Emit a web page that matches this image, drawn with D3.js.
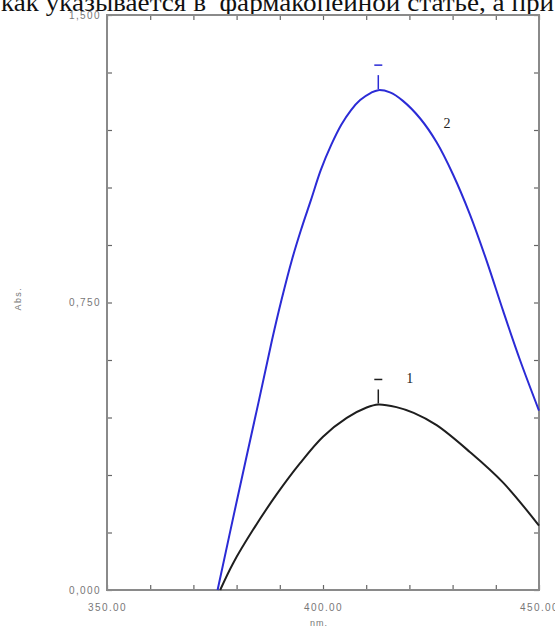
<!DOCTYPE html>
<html>
<head>
<meta charset="utf-8">
<script src="https://cdn.jsdelivr.net/npm/d3@7"></script>
<style>
  body { margin: 0; background: #fff; }
  svg { display: block; }
</style>
</head>
<body>
<svg id="chart"></svg>
<script>
// spectra: wavelength (nm) and absorbance
const curve1 = [
  [376.2, 0.000], [379.2, 0.070], [383.8, 0.157], [389.3, 0.250],
  [394.7, 0.331], [400.0, 0.400], [405.5, 0.449], [410.1, 0.476],
  [412.8, 0.484], [417.0, 0.477], [421.0, 0.462], [426.3, 0.430],
  [434.0, 0.360], [441.7, 0.280], [450.0, 0.168]
];
const curve2 = [
  [375.6, 0.000], [380.1, 0.235], [385.2, 0.496], [388.2, 0.652],
  [390.4, 0.757], [392.8, 0.861], [394.9, 0.939], [397.2, 1.017],
  [399.5, 1.096], [401.9, 1.161], [404.2, 1.213], [406.5, 1.252],
  [408.6, 1.278], [411.1, 1.297], [412.8, 1.304], [415.5, 1.298],
  [418.5, 1.276], [422.5, 1.230], [426.3, 1.168], [430.1, 1.084],
  [434.0, 0.980], [437.9, 0.858], [441.7, 0.728], [445.6, 0.600],
  [450.0, 0.468]
];
const curveLabels = [
  { name: "1", nm: 420.1, abs: 0.553 },
  { name: "2", nm: 428.7, abs: 1.218 }
];
const xLabelTicks = [350, 400, 450];
const yLabelTicks = [0, 0.75, 1.5];
const headerText = "как указывается в  фармакопейной статье, а при";

const width = 555;
const height = 628;
const svg = d3.select("#chart").attr("width", width).attr("height", height);

const margin = { top: 15, right: 16, bottom: 38, left: 107 };

const x = d3.scaleLinear().domain([350, 450]).range([margin.left, width - margin.right]);
const y = d3.scaleLinear().domain([0, 1.5]).range([height - margin.bottom, margin.top]);

// page text cut off at the top of the scan
svg.append("text")
  .attr("x", 1)
  .attr("y", 11)
  .attr("textLength", 553)
  .attr("lengthAdjust", "spacingAndGlyphs")
  .style("white-space", "pre")
  .style("font-family", "'Liberation Serif', 'DejaVu Serif', serif")
  .style("font-size", "25px")
  .attr("fill", "#111")
  .text(headerText);

const frameColor = "#8a8a8a";
const tickColor = "#666";

// inward ticks on all four sides
const xTicks = d3.range(350, 451, 10);
const yTicks = d3.range(0, 1.51, 0.15);

function tickAxis(axis, transform) {
  const g = svg.append("g").attr("transform", transform).call(axis);
  g.select(".domain").remove();
  g.selectAll("line").attr("stroke", tickColor).attr("stroke-width", 1.2);
  g.selectAll("text").remove();
}
tickAxis(d3.axisBottom(x).tickValues(xTicks).tickSize(-5), `translate(0,${y(0)})`);
tickAxis(d3.axisTop(x).tickValues(xTicks).tickSize(-5), `translate(0,${y(1.5)})`);
tickAxis(d3.axisLeft(y).tickValues(yTicks).tickSize(-5), `translate(${x(350)},0)`);
tickAxis(d3.axisRight(y).tickValues(yTicks).tickSize(-5), `translate(${x(450)},0)`);

// frame
svg.append("rect")
  .attr("x", x(350)).attr("y", y(1.5))
  .attr("width", x(450) - x(350)).attr("height", y(0) - y(1.5))
  .attr("fill", "none").attr("stroke", frameColor).attr("stroke-width", 2);

// tick labels
const labelStyle = g => g.selectAll("text")
  .style("font-family", "Arial, 'Liberation Sans', sans-serif")
  .style("font-size", "10px")
  .style("letter-spacing", "1.4px")
  .attr("fill", "#777");

const xLab = svg.append("g")
  .attr("transform", `translate(0,${y(0)})`)
  .call(d3.axisBottom(x).tickValues(xLabelTicks).tickSize(0).tickPadding(14).tickFormat(d3.format(".2f")));
xLab.select(".domain").remove();
xLab.call(labelStyle);

const yLab = svg.append("g")
  .attr("transform", `translate(${x(350)},0)`)
  .call(d3.axisLeft(y).tickValues(yLabelTicks).tickSize(0).tickPadding(6)
    .tickFormat(d => d3.format(".3f")(d).replace(".", ",")));
yLab.select(".domain").remove();
yLab.call(labelStyle);

// axis titles
svg.append("text")
  .attr("x", x(400) - 4).attr("y", 626)
  .attr("text-anchor", "middle")
  .style("font-family", "Arial, 'Liberation Sans', sans-serif")
  .style("font-size", "9px").style("letter-spacing", "1px")
  .attr("fill", "#777")
  .text("nm.");

svg.append("text")
  .attr("transform", `translate(21,${y(0.76)}) rotate(-90)`)
  .attr("text-anchor", "middle")
  .style("font-family", "Arial, 'Liberation Sans', sans-serif")
  .style("font-size", "9px").style("letter-spacing", "1.4px")
  .attr("fill", "#777")
  .text("Abs.");

// spectra
const line = d3.line()
  .x(d => x(d[0]))
  .y(d => y(d[1]))
  .curve(d3.curveCatmullRom.alpha(0.5));

const series = [
  { data: curve1, color: "#1e1e1e" },
  { data: curve2, color: "#2b2bd6" }
];

series.forEach(s => {
  svg.append("path")
    .datum(s.data)
    .attr("fill", "none")
    .attr("stroke", s.color)
    .attr("stroke-width", 2)
    .attr("stroke-linejoin", "round")
    .attr("d", line);

  // peak pick marker
  const peak = d3.greatest(s.data, d => d[1]);
  const px = x(peak[0]);
  const py = y(peak[1]);
  svg.append("line")
    .attr("x1", px).attr("x2", px)
    .attr("y1", py - 1).attr("y2", py - 15)
    .attr("stroke", s.color).attr("stroke-width", 1.5);
  svg.append("line")
    .attr("x1", px - 4).attr("x2", px + 4)
    .attr("y1", py - 25).attr("y2", py - 25)
    .attr("stroke", s.color).attr("stroke-width", 1.5);
});

// curve numbers
svg.selectAll(".curve-label")
  .data(curveLabels)
  .enter()
  .append("text")
  .attr("class", "curve-label")
  .attr("x", d => x(d.nm))
  .attr("y", d => y(d.abs) + 5)
  .attr("text-anchor", "middle")
  .style("font-family", "'Liberation Serif', 'DejaVu Serif', serif")
  .style("font-size", "14px")
  .attr("fill", "#222")
  .text(d => d.name);
</script>
</body>
</html>
